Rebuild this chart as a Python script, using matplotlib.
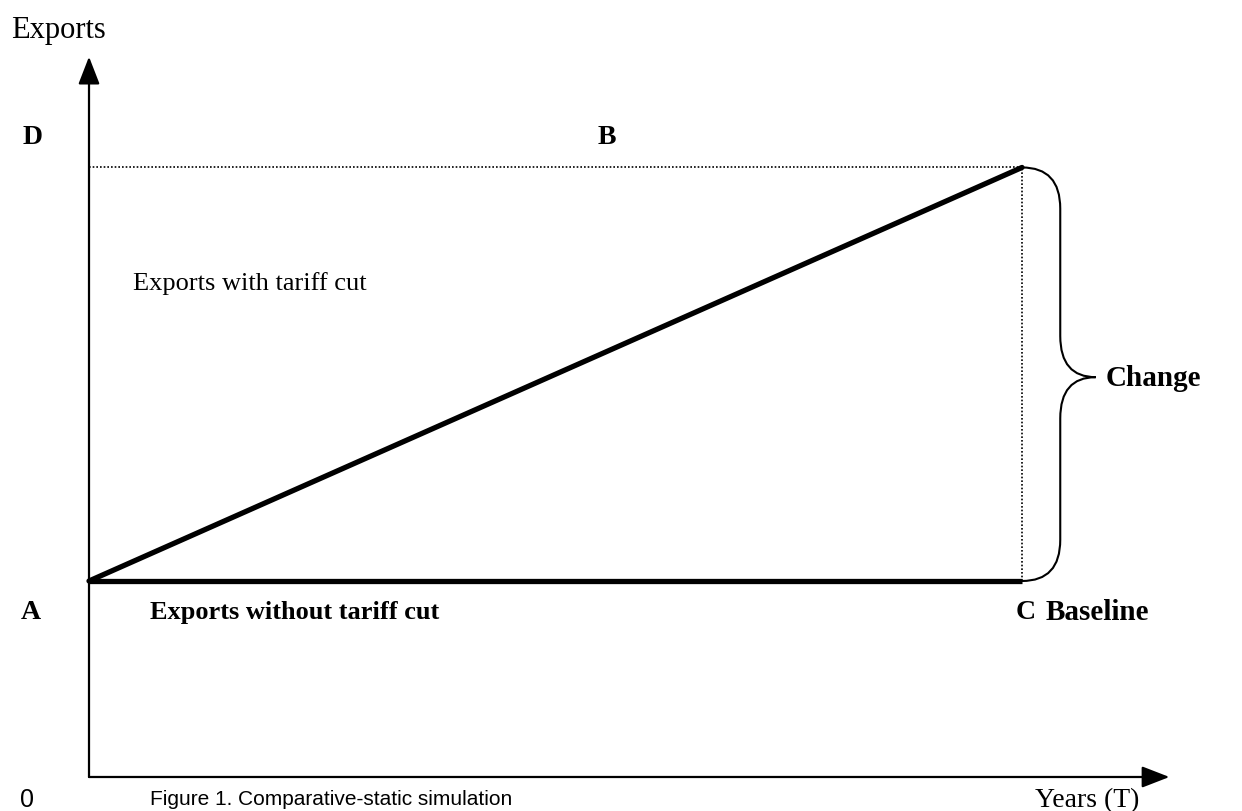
import matplotlib
matplotlib.use("Agg")
import matplotlib.pyplot as plt
from matplotlib.path import Path
from matplotlib.patches import PathPatch

# Data (arbitrary units: years on x, exports on y)
years = [0, 10]
baseline = [2.0, 2.0]          # exports without tariff cut
with_cut = [2.0, 6.22]         # exports with tariff cut
x_axis_end = 11.58
y_axis_end = 7.35

SERIF = ["Liberation Serif", "DejaVu Serif"]
NARROW = ["Liberation Sans Narrow", "Liberation Sans", "DejaVu Sans"]
FS = 20

fig = plt.figure(figsize=(12.42, 8.12), dpi=100)
ax = fig.add_axes([0, 0, 1, 1])
ax.set_xlim(-0.954, 12.358)
ax.set_ylim(-0.347, 7.939)
ax.axis("off")

# axes with arrows
arrow = dict(arrowstyle="-|>,head_length=0.85,head_width=0.33", color="black",
             lw=1.6, mutation_scale=20, shrinkA=0, shrinkB=0)
ax.annotate("", xy=(0, y_axis_end), xytext=(0, 0), arrowprops=arrow)
ax.annotate("", xy=(x_axis_end, 0), xytext=(0, 0), arrowprops=arrow)

# dotted guide lines
ax.plot([years[0], years[-1]], [with_cut[-1], with_cut[-1]], color="black",
        lw=1.2, linestyle=(0, (1, 1.2)))
ax.plot([years[-1], years[-1]], [baseline[-1], with_cut[-1]], color="black",
        lw=1.2, linestyle=(0, (1, 1.2)))

# the two export paths
ax.plot(years, with_cut, color="black", lw=3.8, solid_capstyle="round")
ax.plot(years, baseline, color="black", lw=3.8, solid_capstyle="butt")

# curly brace for the change
x0 = years[-1]
y_lo, y_hi = baseline[-1], with_cut[-1]
y_mid = 4.08
bx = x0 + 0.41     # vertical stem of brace
tip = x0 + 0.79
r = 0.42           # corner height
verts = [
    (x0, y_hi), (bx, y_hi), (bx, y_hi - r),
    (bx, y_mid + r),
    (bx, y_mid), (tip, y_mid),
    (bx, y_mid), (bx, y_mid - r),
    (bx, y_lo + r),
    (bx, y_lo), (x0, y_lo),
]
codes = [Path.MOVETO, Path.CURVE3, Path.CURVE3, Path.LINETO,
         Path.CURVE3, Path.CURVE3, Path.CURVE3, Path.CURVE3,
         Path.LINETO, Path.CURVE3, Path.CURVE3]
ax.add_patch(PathPatch(Path(verts, codes), facecolor="none",
                       edgecolor="black", lw=1.5))

# labels
ax.text(-0.84, 7.63, "Exports", family=SERIF, fontsize=22, va="center", ha="left")
ax.text(-0.61, 6.54, "D", family=SERIF, fontsize=FS, weight="bold", va="center", ha="center")
ax.text(5.55, 6.54, "B", family=SERIF, fontsize=FS, weight="bold", va="center", ha="center")
ax.text(0.47, 5.05, "Exports with tariff cut", family=SERIF, fontsize=19, va="center", ha="left")
ax.text(10.9, y_mid, "Change", family=SERIF, fontsize=21, weight="bold", va="center", ha="left")
ax.text(-0.62, 1.69, "A", family=SERIF, fontsize=FS, weight="bold", va="center", ha="center")
ax.text(0.65, 1.69, "Exports without tariff cut", family=SERIF, fontsize=19, weight="bold",
        va="center", ha="left")
ax.text(years[-1] + 0.04, 1.69, "C", family=SERIF, fontsize=FS, weight="bold", va="center", ha="center")
ax.text(10.25, 1.69, "Baseline", family=SERIF, fontsize=21, weight="bold", va="center", ha="left")
ax.text(-0.66, -0.22, "0", family=NARROW, fontsize=18, va="center", ha="center")
ax.text(0.65, -0.22, "Figure 1. Comparative-static simulation", family=NARROW,
        fontsize=15, va="center", ha="left")
ax.text(10.14, -0.235, "Years (T)", family=SERIF, fontsize=20, va="center", ha="left")

fig.savefig("out.png", dpi=100)
